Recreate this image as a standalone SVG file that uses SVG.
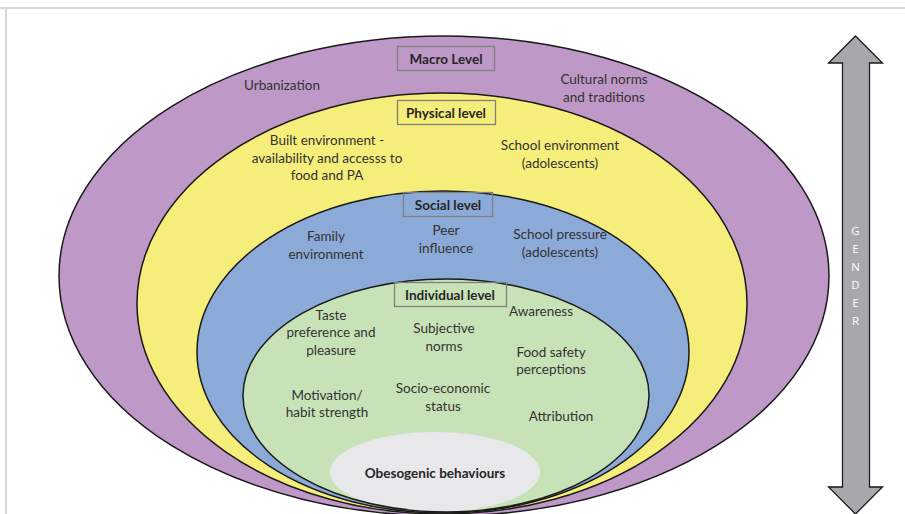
<svg xmlns="http://www.w3.org/2000/svg" width="905" height="514" viewBox="0 0 905 514">
<style>
.e{stroke:#1a1a1a;stroke-width:1.5}
.t{font-family:Lato,"Liberation Sans",sans-serif;font-size:13.5px;fill:#333333;text-anchor:middle}
.h{font-family:Lato,"Liberation Sans",sans-serif;font-size:13.5px;font-weight:bold;fill:#262626;text-anchor:middle}
.b{fill:none;stroke:#7f7f7f;stroke-width:1.3}
</style>
<defs>
<clipPath id="gc"><ellipse cx="446" cy="395.5" rx="203" ry="116.5"/></clipPath>
</defs>
<rect width="905" height="514" fill="#ffffff"/>
<path d="M0 8H905M6 8V514" fill="none" stroke="#d6d6d6" stroke-width="2"/>
<g id="macro">
<ellipse class="e" cx="444" cy="276" rx="385" ry="240" fill="#be98c6"/>
<rect class="b" x="397.5" y="46.5" width="97" height="24"/>
<text class="h" x="446" y="63.5">Macro Level</text>
<text class="t" x="282" y="90">Urbanization</text>
<text class="t" x="604" y="84">Cultural norms</text>
<text class="t" x="604" y="102">and traditions</text>
</g>
<g id="physical">
<ellipse class="e" cx="442" cy="303.5" rx="305" ry="210.5" fill="#f6ee7a"/>
<rect class="b" x="397.5" y="100.5" width="98" height="24"/>
<text class="h" x="446" y="117.5">Physical level</text>
<text class="t" x="327" y="145">Built environment -</text>
<text class="t" x="327" y="162.5">availability and accesss to</text>
<text class="t" x="327" y="180">food and PA</text>
<text class="t" x="560" y="150">School environment</text>
<text class="t" x="560" y="167.5">(adolescents)</text>
</g>
<g id="social">
<ellipse class="e" cx="443" cy="352" rx="246" ry="161" fill="#8caad8"/>
<rect class="b" x="403.5" y="192.5" width="89" height="24"/>
<text class="h" x="448" y="209.5">Social level</text>
<text class="t" x="326" y="241">Family</text>
<text class="t" x="326" y="258.5">environment</text>
<text class="t" x="446" y="235">Peer</text>
<text class="t" x="446" y="252.5">influence</text>
<text class="t" x="560" y="239">School pressure</text>
<text class="t" x="560" y="256.5">(adolescents)</text>
</g>
<g id="individual">
<ellipse cx="446" cy="395.5" rx="203" ry="116.5" fill="#c8e2b8"/>
<ellipse cx="435" cy="472" rx="105" ry="40" fill="#e8e7ea" clip-path="url(#gc)"/>
<ellipse class="e" cx="446" cy="395.5" rx="203" ry="116.5" fill="none"/>
<rect class="b" x="394.5" y="282.5" width="112" height="24"/>
<text class="h" x="450" y="299.5">Individual level</text>
<text class="t" x="331" y="319.5">Taste</text>
<text class="t" x="331" y="337">preference and</text>
<text class="t" x="331" y="354.5">pleasure</text>
<text class="t" x="444" y="333">Subjective</text>
<text class="t" x="444" y="350.5">norms</text>
<text class="t" x="541" y="315.5">Awareness</text>
<text class="t" x="551" y="356.5">Food safety</text>
<text class="t" x="551" y="374">perceptions</text>
<text class="t" x="327" y="399.5">Motivation/</text>
<text class="t" x="327" y="417">habit strength</text>
<text class="t" x="443" y="393">Socio-economic</text>
<text class="t" x="443" y="410.5">status</text>
<text class="t" x="561" y="420.5">Attribution</text>
</g>
<g id="behaviours">
<text class="h" x="435" y="477.5">Obesogenic behaviours</text>
</g>
<g id="gender">
<path d="M855.5 36L882.5 63H869.5V487H882.5L855.5 514L828.5 487H842.5V63H828.5Z" fill="#a6a8ae" stroke="#1a1a1a" stroke-width="1.3"/>
<g font-family="'Open Sans','Liberation Sans',sans-serif" font-size="11.5" fill="#ffffff" text-anchor="middle">
<text x="855.5" y="234.5">G</text>
<text x="855.5" y="252.5">E</text>
<text x="855.5" y="270.5">N</text>
<text x="855.5" y="288.5">D</text>
<text x="855.5" y="306.5">E</text>
<text x="855.5" y="324.5">R</text>
</g>
</g>
<g id="connectors"/>
</svg>
